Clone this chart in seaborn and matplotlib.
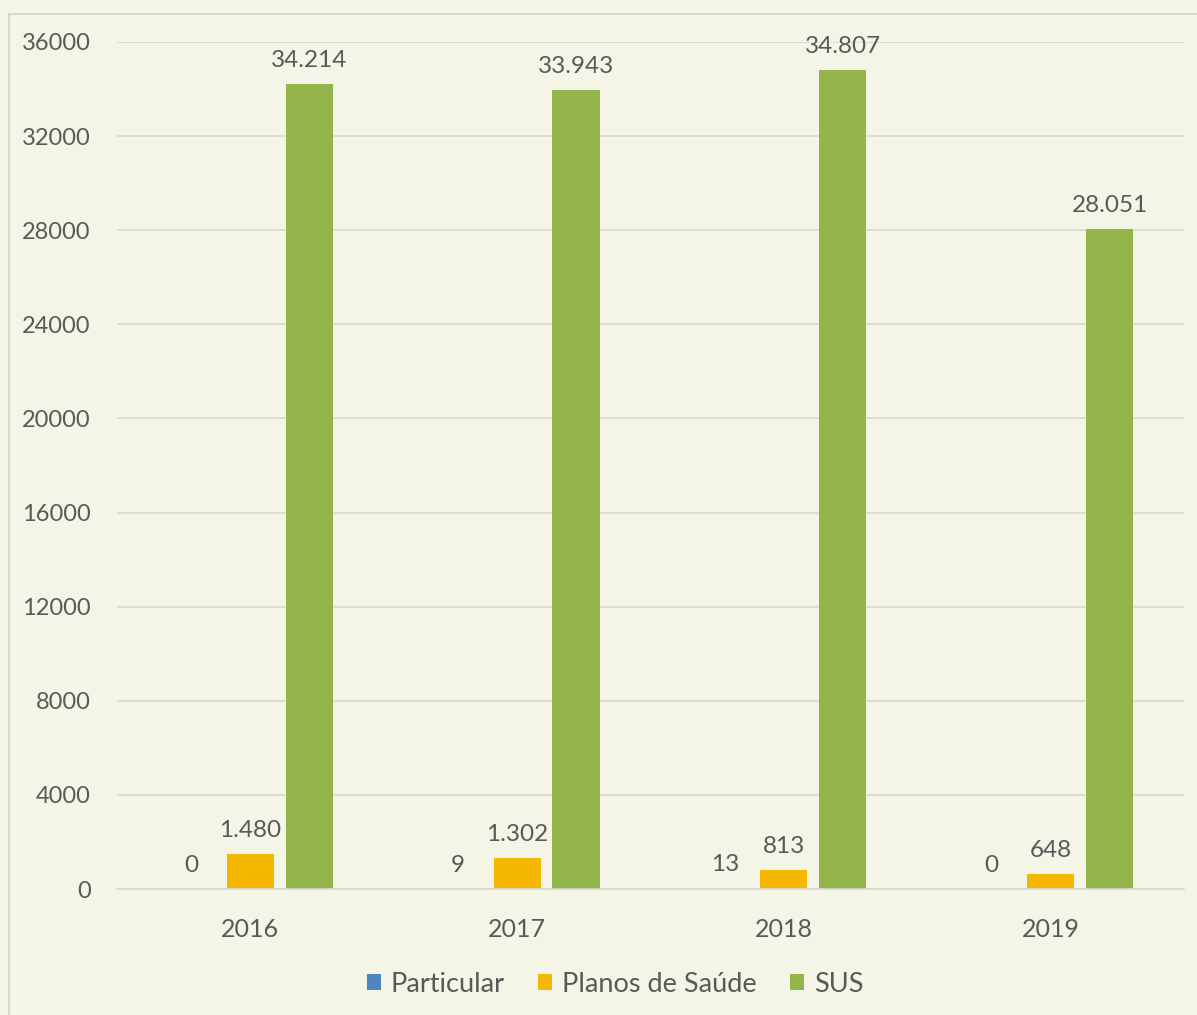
import matplotlib
matplotlib.use("Agg")
import matplotlib.pyplot as plt
import seaborn as sns
import pandas as pd
from matplotlib.patches import Rectangle, Patch

years = ["2016", "2017", "2018", "2019"]
series = ["Particular", "Planos de Saúde", "SUS"]
particular = [0, 9, 13, 0]
planos = [1480, 1302, 813, 648]
sus = [34214, 33943, 34807, 28051]
yticks = [0, 4000, 8000, 12000, 16000, 20000, 24000, 28000, 32000, 36000]

colors = ["#4F86C2", "#F5B800", "#94B54C"]
bg = "#F4F5E6"
txt = "#595959"

rows = []
for s, vals in zip(series, [particular, planos, sus]):
    for y, v in zip(years, vals):
        rows.append({"Ano": y, "Tipo": s, "Valor": v})
df = pd.DataFrame(rows)

sns.set_theme(style="white")
plt.rcParams["font.family"] = ["Lato", "DejaVu Sans"]

fig = plt.figure(figsize=(11.97, 10.15), dpi=100, facecolor=bg)
ax = fig.add_axes([117/1197, 126/1015, (1184-117)/1197, (889-42)/1015])
ax.set_facecolor(bg)

sns.barplot(data=df, x="Ano", y="Valor", hue="Tipo", hue_order=series,
            palette=colors, width=0.663, gap=0.2, ax=ax, legend=False,
            saturation=1, edgecolor="none", linewidth=0, errorbar=None)

for cont, vals in zip(ax.containers, [particular, planos, sus]):
    labels = [f"{v:,}".replace(",", ".") for v in vals]
    ax.bar_label(cont, labels=labels, padding=9.5, fontsize=17.5, color=txt)

ax.set_ylim(0, 36000)
ax.set_xlim(-0.5, 3.5)
ax.set_yticks(yticks)
ax.set_yticklabels([str(t) for t in yticks])
ax.yaxis.grid(True, color="#D9D9D6", linewidth=1.2)
ax.set_axisbelow(True)
ax.tick_params(axis="both", length=0, labelcolor=txt)
ax.tick_params(axis="y", pad=19, labelsize=17)
ax.tick_params(axis="x", pad=21, labelsize=18)
ax.set_xlabel("")
ax.set_ylabel("")
for side in ["top", "right", "left"]:
    ax.spines[side].set_visible(False)
ax.spines["bottom"].set_color("#D9D9D6")
ax.spines["bottom"].set_linewidth(1.2)

handles = [Patch(facecolor=c, edgecolor="none") for c in colors]
fig.legend(handles, series, loc="center", bbox_to_anchor=(615/1197, 1-984/1015),
           ncol=3, frameon=False, fontsize=19.5, labelcolor=txt,
           handlelength=0.52, handleheight=0.52, handletextpad=0.37, columnspacing=1.22)

fig.patches.append(Rectangle((9/1197, -0.01), 1.0, 1-14/1015+0.01, transform=fig.transFigure,
                             fill=False, edgecolor="#D5D6C8", linewidth=1.3))

fig.savefig("out.png", dpi=100, facecolor=bg)
